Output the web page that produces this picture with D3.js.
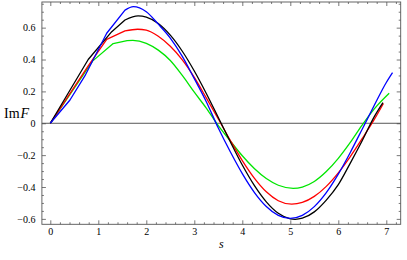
<!DOCTYPE html>
<html>
<head>
<meta charset="utf-8">
<script src="https://cdn.jsdelivr.net/npm/d3@7"></script>
<style>
  body { margin: 0; background: #fff; }
  svg { display: block; }
</style>
</head>
<body>
<svg id="chart" width="407" height="260"></svg>
<script>
// curve samples, [s, Im F]
// the first few samples of each curve are joined by straight pieces, as in the picture
let blueRise = [[0, 0], [0.41, 0.146], [0.72, 0.297], [1.175, 0.565], [1.556, 0.71]];
let blueData = [[1.556, 0.71], [1.73, 0.732], [2.0, 0.70], [2.25, 0.622], [2.5, 0.535], [2.75, 0.42], [3.0, 0.28],
    [3.25, 0.135], [3.5, -0.03], [3.75, -0.179], [4.0, -0.316], [4.25, -0.433], [4.5, -0.522], [4.75, -0.578],
    [5.0, -0.597], [5.25, -0.578], [5.5, -0.523], [5.75, -0.435], [6.0, -0.319], [6.25, -0.183], [6.5, -0.036],
    [6.75, 0.113], [7.0, 0.256], [7.13, 0.318]];
let blackRise = [[0, 0], [0.79, 0.40], [1.28, 0.575], [1.556, 0.648]];
let blackData = [[1.556, 0.648], [1.83, 0.674], [2.0, 0.666], [2.25, 0.626], [2.5, 0.553], [2.75, 0.452],
    [3.0, 0.328], [3.25, 0.187], [3.5, 0.036], [3.75, -0.116], [4.0, -0.262], [4.25, -0.39], [4.5, -0.493],
    [4.75, -0.565], [5.0, -0.6], [5.1, -0.603], [5.25, -0.596], [5.5, -0.556], [5.75, -0.482], [6.0, -0.385],
    [6.25, -0.25], [6.5, -0.108], [6.75, 0.042], [6.93, 0.13]];
let redRise = [[0, 0], [0.79, 0.36], [1.175, 0.527], [1.556, 0.58]];
let redData = [[1.556, 0.58], [1.82, 0.59], [2.0, 0.585], [2.25, 0.546], [2.5, 0.483], [2.75, 0.398],
    [3.0, 0.288], [3.25, 0.159], [3.5, 0.027], [3.75, -0.107], [4.0, -0.234], [4.25, -0.344], [4.5, -0.43],
    [4.75, -0.486], [5.03, -0.508], [5.25, -0.497], [5.5, -0.459], [5.75, -0.396], [6.0, -0.311], [6.25, -0.209],
    [6.5, -0.095], [6.75, 0.024], [6.94, 0.124]];
let greenRise = [[0, 0], [0.88, 0.39], [1.31, 0.50], [1.6, 0.518]];
let greenData = [[1.6, 0.518], [1.72, 0.52], [2.0, 0.502], [2.25, 0.459], [2.5, 0.394], [2.75, 0.30], [3.0, 0.195],
    [3.25, 0.095], [3.5, -0.015], [3.75, -0.111], [4.0, -0.204], [4.25, -0.284], [4.5, -0.347], [4.75, -0.389],
    [5.06, -0.408], [5.25, -0.40], [5.5, -0.365], [5.75, -0.303], [6.0, -0.22], [6.25, -0.12], [6.5, -0.01],
    [6.75, 0.09], [7.06, 0.188]];

let xTicks = [0, 1, 2, 3, 4, 5, 6, 7];
let yTicks = [-0.6, -0.4, -0.2, 0, 0.2, 0.4, 0.6];

let svg = d3.select('#chart');
let serif = '"Liberation Serif", "DejaVu Serif", serif';

let frameLeft = 41.9, frameRight = 400.7, frameTop = 2, frameBottom = 224.3;

let x = d3.scaleLinear().domain([-0.175, 7.3]).range([frameLeft, frameRight]);
let y = d3.scaleLinear().domain([-0.634, 0.761]).range([frameBottom, frameTop]);

let xMinor = d3.range(-0.2, 7.31, 0.2).map(d => +d.toFixed(2)).filter(d => d >= -0.175 && !xTicks.includes(d));
let yMinor = d3.range(-0.6, 0.76, 0.05).map(d => +d.toFixed(2)).filter(d => !yTicks.some(t => Math.abs(t - d) < 1e-6));

let fmtY = (d) => d === 0 ? '0' : d3.format('.1f')(d);

function styleAxis(g) {
    g.select('.domain').remove();
    g.attr('font-family', serif).attr('font-size', 10);
    g.selectAll('.tick line').attr('stroke', '#555').attr('stroke-width', 0.8);
    g.selectAll('.tick text').attr('fill', '#000');
}

// bottom + top
svg.append('g').attr('transform', 'translate(0,' + frameBottom + ')')
    .call(d3.axisBottom(x).tickValues(xTicks).tickSize(-4).tickPadding(4))
    .call(styleAxis);
svg.append('g').attr('transform', 'translate(0,' + frameBottom + ')')
    .call(d3.axisBottom(x).tickValues(xMinor).tickSize(-2).tickFormat(''))
    .call(styleAxis);
svg.append('g').attr('transform', 'translate(0,' + frameTop + ')')
    .call(d3.axisTop(x).tickValues(xTicks).tickSize(-4).tickFormat(''))
    .call(styleAxis);
svg.append('g').attr('transform', 'translate(0,' + frameTop + ')')
    .call(d3.axisTop(x).tickValues(xMinor).tickSize(-2).tickFormat(''))
    .call(styleAxis);

// left + right
svg.append('g').attr('transform', 'translate(' + frameLeft + ',0)')
    .call(d3.axisLeft(y).tickValues(yTicks).tickSize(-4).tickPadding(6.5).tickFormat(fmtY))
    .call(styleAxis);
svg.append('g').attr('transform', 'translate(' + frameLeft + ',0)')
    .call(d3.axisLeft(y).tickValues(yMinor).tickSize(-2).tickFormat(''))
    .call(styleAxis);
svg.append('g').attr('transform', 'translate(' + frameRight + ',0)')
    .call(d3.axisRight(y).tickValues(yTicks).tickSize(-4).tickFormat(''))
    .call(styleAxis);
svg.append('g').attr('transform', 'translate(' + frameRight + ',0)')
    .call(d3.axisRight(y).tickValues(yMinor).tickSize(-2).tickFormat(''))
    .call(styleAxis);

// zero line
svg.append('line')
    .attr('x1', frameLeft).attr('x2', frameRight)
    .attr('y1', y(0)).attr('y2', y(0))
    .attr('stroke', '#444').attr('stroke-width', 0.9);

let straight = d3.line()
    .x(d => x(d[0]))
    .y(d => y(d[1]));
let smooth = d3.line()
    .x(d => x(d[0]))
    .y(d => y(d[1]))
    .curve(d3.curveMonotoneX);

let series = [
    { rise: greenRise, data: greenData, color: '#00e600' },
    { rise: redRise, data: redData, color: '#ff0000' },
    { rise: blackRise, data: blackData, color: '#000000' },
    { rise: blueRise, data: blueData, color: '#0000ff' }
];

svg.selectAll('path.curve')
    .data(series)
    .join('path')
    .attr('class', 'curve')
    .attr('fill', 'none')
    .attr('stroke', d => d.color)
    .attr('stroke-width', 1.3)
    .attr('stroke-linejoin', 'round')
    .attr('d', d => straight(d.rise) + smooth(d.data).replace(/^M/, 'L'));

// frame
svg.append('rect')
    .attr('x', frameLeft).attr('y', frameTop)
    .attr('width', frameRight - frameLeft).attr('height', frameBottom - frameTop)
    .attr('fill', 'none').attr('stroke', '#555').attr('stroke-width', 0.9);

// axis labels
let yLabel = svg.append('text')
    .attr('x', 4).attr('y', 117.5)
    .attr('font-family', serif)
    .attr('font-size', 14);
yLabel.append('tspan').text('Im');
yLabel.append('tspan').attr('font-style', 'italic').attr('dx', 1).text('F');

svg.append('text')
    .attr('x', (frameLeft + frameRight) / 2).attr('y', 248)
    .attr('text-anchor', 'middle')
    .attr('font-family', serif)
    .attr('font-style', 'italic')
    .attr('font-size', 12)
    .text('s');
</script>
</body>
</html>
